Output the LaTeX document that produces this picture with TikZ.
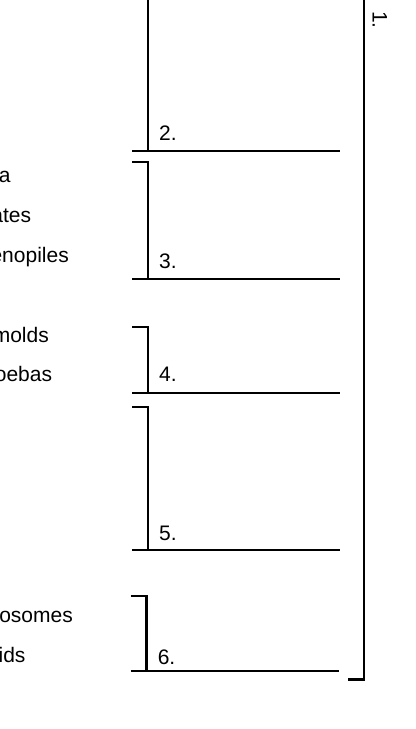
\documentclass[tikz,border=0pt]{standalone}
\usepackage{fontspec}
\setmainfont{Liberation Sans}
\usepackage{tikz}

\begin{document}
\begin{tikzpicture}[x=0.75pt, y=-0.75pt,
                    line width=1.8pt,
                    lbl/.style={font=\fontsize{15.75}{18}\selectfont,
                    inner sep=0pt},
                    num/.style={lbl, anchor=base west},
                    word/.style={lbl, anchor=base east}]
    \useasboundingbox (0,0) rectangle (415,729);

    % brackets 2..6: top, bottom, left end, stem, label baseline
    \foreach \n/\t/\b/\l/\s/\y in {2/-1.2/150.7/132/147.7/140.7,
                                   3/162/278.7/132/147.7/268,
                                   4/326.7/392.7/132/147.7/381.7,
                                   5/406.7/550/132/147.7/540,
                                   6/595.7/671/130.7/146.3/664.3}
    {
        \draw (\l,\t) -- (\s,\t) -- (\s,\b);
        \draw (\l,\b) -- (\l+208,\b);
        \node[num] (n\n) at (\s+10.3,\y) {\n.};
    }

    % outer bracket 1
    \draw (348,-1.2) -- (364,-1.2) -- (364,679.3) -- (348,679.3);
    \node[lbl, rotate=-90, anchor=base west] (n1) at (372.5,10) {1.};

    % cut-off words on the left
    \node[word] (w1) at (11.7,182.7) {a};
    \node[word] (w2) at (32.3,222.3) {ates};
    \node[word] (w3) at (70,262.7) {enopiles};
    \node[word] (w4) at (50,342.7) {molds};
    \node[word] (w5) at (53.3,381.7) {oebas};
    \node[word] (w6) at (74,622.7) {osomes};
    \node[word] (w7) at (26.7,662.7) {ids};

\end{tikzpicture}
\end{document}
